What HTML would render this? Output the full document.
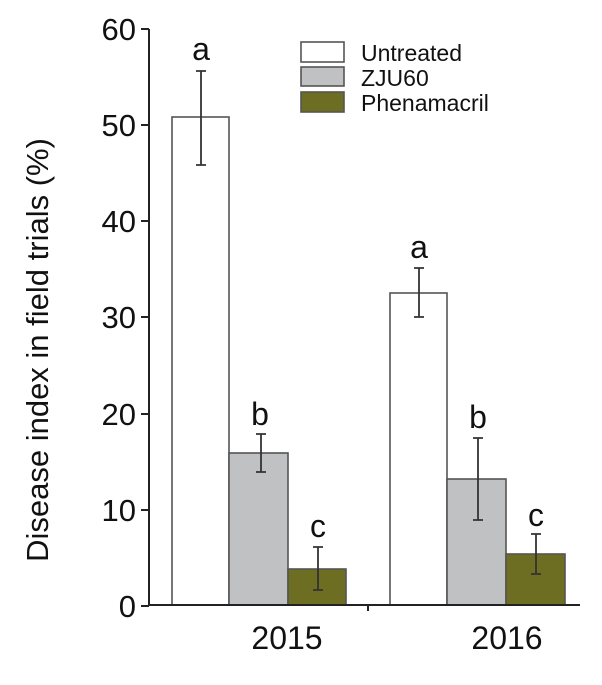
<!DOCTYPE html>
<html><head><style>body{margin:0;background:#fff}</style></head><body>
<svg width="602" height="680" xmlns="http://www.w3.org/2000/svg" font-family="Liberation Sans, Arial, sans-serif">
<rect width="602" height="680" fill="#fff"/>
<g stroke="#555" stroke-width="1.6">
<rect x="172" y="117" width="57" height="488" fill="#fff"/>
<rect x="229" y="453" width="59" height="152" fill="#bfc1c3"/>
<rect x="288" y="569" width="58" height="36" fill="#6e6e22"/>
<rect x="390" y="293" width="57" height="312" fill="#fff"/>
<rect x="447" y="479" width="59" height="126" fill="#bfc1c3"/>
<rect x="506" y="554" width="59" height="51" fill="#6e6e22"/>
</g>
<g stroke="#333" stroke-width="1.8">
<path d="M201 71V165M196 71h10M196 165h10"/>
<path d="M261 434V472M256 434h10M256 472h10"/>
<path d="M318 547V590M313 547h10M313 590h10"/>
<path d="M419 268V317M414 268h10M414 317h10"/>
<path d="M478 438V520M473 438h10M473 520h10"/>
<path d="M536 534V574M531 534h10M531 574h10"/>
</g>
<g stroke="#222" stroke-width="2">
<path d="M149 29V606M149 605H580M368 605v6"/>
<path d="M141 29h8M141 125h8M141 221h8M141 317h8M141 414h8M141 510h8M141 606h8"/>
</g>
<g font-size="31" fill="#111" text-anchor="end">
<text x="136" y="40">60</text><text x="136" y="136">50</text><text x="136" y="232">40</text>
<text x="136" y="328">30</text><text x="136" y="425">20</text><text x="136" y="521">10</text><text x="136" y="617">0</text>
</g>
<text transform="translate(48 350) rotate(-90)" font-size="31" text-anchor="middle" fill="#111">Disease index in field trials (%)</text>
<g font-size="32" fill="#111" text-anchor="middle">
<text x="201" y="60">a</text><text x="260" y="425">b</text><text x="318" y="537">c</text>
<text x="419" y="258">a</text><text x="478" y="428">b</text><text x="536" y="526">c</text>
<text x="287" y="649">2015</text><text x="507" y="649">2016</text>
</g>
<g stroke="#555" stroke-width="1.6">
<rect x="301" y="42" width="43" height="20" fill="#fff"/>
<rect x="301" y="67" width="43" height="19" fill="#bfc1c3"/>
<rect x="301" y="92" width="43" height="20" fill="#6e6e22"/>
</g>
<g font-size="23" fill="#111">
<text x="361" y="61">Untreated</text><text x="361" y="86">ZJU60</text><text x="361" y="111">Phenamacril</text>
</g>
</svg>
</body></html>
